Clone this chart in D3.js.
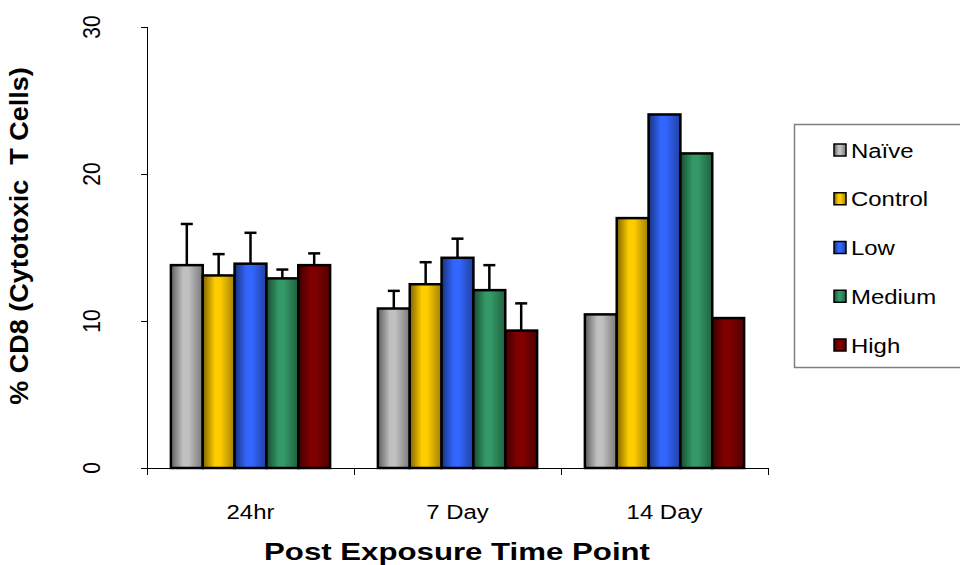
<!DOCTYPE html>
<html><head><meta charset="utf-8">
<script src="https://cdn.jsdelivr.net/npm/d3@7"></script>
<style>
html,body{margin:0;padding:0;background:#fff;}
svg{display:block;font-family:"Liberation Sans",Arial,sans-serif;}
</style></head>
<body>
<svg id="chart" width="960" height="565"></svg>
<script>
const categories = ["24hr", "7 Day", "14 Day"];
const seriesNames = ["Naïve", "Control", "Low", "Medium", "High"];
const seriesColors = ["#C0C0C0", "#FFCC00", "#3366FF", "#339966", "#800000"];
const naive   = [13.8, 10.85, 10.45];
const control = [13.1, 12.5, 17.0];
const low     = [13.9, 14.3, 24.05];
const medium  = [12.9, 12.1, 21.4];
const high    = [13.8, 9.35, 10.2];
const naiveErr   = [2.8, 1.2, 0];
const controlErr = [1.45, 1.5, 0];
const lowErr     = [2.1, 1.3, 0];
const mediumErr  = [0.6, 1.7, 0];
const highErr    = [0.8, 1.85, 0];
const yTicks = [0, 10, 20, 30];

const values = [naive, control, low, medium, high];
const errors = [naiveErr, controlErr, lowErr, mediumErr, highErr];

(function () {
const svg = d3.select("#chart");
const mLeft = 147, mRight = 768, mTop = 27, mBottom = 468;
const sx = 1.14, fs = 21;

const x0 = d3.scaleBand().domain(categories).range([mLeft, mRight]).paddingInner(0).paddingOuter(0);
const x1 = d3.scaleBand().domain(seriesNames).range([0, x0.bandwidth()]).paddingInner(0).paddingOuter(0.75);
const y = d3.scaleLinear().domain([0, 30]).range([mBottom, mTop]);

// gradients
const defs = svg.append("defs");
seriesColors.forEach((c, i) => {
  const g = defs.append("linearGradient").attr("id", "g" + i).attr("x1", "0%").attr("x2", "100%").attr("y1", "0%").attr("y2", "0%");
  const col = d3.color(c);
  g.append("stop").attr("offset", "0%").attr("stop-color", col.darker(2).formatHex());
  g.append("stop").attr("offset", "38%").attr("stop-color", col.formatHex());
  g.append("stop").attr("offset", "55%").attr("stop-color", col.formatHex());
  g.append("stop").attr("offset", "100%").attr("stop-color", col.darker(1.3).formatHex());
});

// y axis
svg.append("line").attr("x1", mLeft + 0.5).attr("x2", mLeft + 0.5).attr("y1", mTop).attr("y2", mBottom + 7).attr("stroke", "#000").attr("stroke-width", 1);
yTicks.forEach(t => {
  svg.append("line").attr("x1", mLeft - 6).attr("x2", mLeft).attr("y1", Math.round(y(t)) + 0.5).attr("y2", Math.round(y(t)) + 0.5).attr("stroke", "#000");
  svg.append("text").attr("transform", `translate(100,${y(t)}) scale(${sx},1) rotate(-90)`)
    .attr("text-anchor", "middle").attr("font-size", fs).attr("fill", "#000").text(t);
});

// bars
const groups = svg.append("g");
categories.forEach((cat, ci) => {
  seriesNames.forEach((s, si) => {
    const v = values[si][ci];
    const bx = x0(cat) + x1(s);
    groups.append("rect").attr("x", bx).attr("y", y(v)).attr("width", x1.bandwidth()).attr("height", y(0) - y(v))
      .attr("fill", `url(#g${si})`).attr("stroke", "#000").attr("stroke-width", 2.5);
  });
});
// error bars
categories.forEach((cat, ci) => {
  seriesNames.forEach((s, si) => {
    const v = values[si][ci], e = errors[si][ci];
    if (!e) return;
    const cx = x0(cat) + x1(s) + x1.bandwidth() / 2;
    groups.append("line").attr("x1", cx).attr("x2", cx).attr("y1", y(v)).attr("y2", y(v + e)).attr("stroke", "#000").attr("stroke-width", 2.5);
    groups.append("line").attr("x1", cx - 6).attr("x2", cx + 6).attr("y1", y(v + e)).attr("y2", y(v + e)).attr("stroke", "#000").attr("stroke-width", 2.5);
  });
});

// x axis
svg.append("line").attr("x1", mLeft).attr("x2", mRight).attr("y1", mBottom + 0.5).attr("y2", mBottom + 0.5).attr("stroke", "#000");
const bounds = categories.map(c => x0(c)).concat([mRight]);
bounds.forEach(b => {
  svg.append("line").attr("x1", b + 0.5).attr("x2", b + 0.5).attr("y1", mBottom).attr("y2", mBottom + 7).attr("stroke", "#000");
});
categories.forEach(c => {
  svg.append("text").attr("transform", `translate(${x0(c) + x0.bandwidth() / 2},519) scale(${sx},1)`)
    .attr("text-anchor", "middle").attr("font-size", fs).attr("fill", "#000").text(c);
});

// titles
svg.append("text").attr("transform", `translate(457,560) scale(1.3,1)`)
  .attr("text-anchor", "middle").attr("font-size", 24).attr("font-weight", "bold").text("Post Exposure Time Point");
svg.append("text").attr("transform", `translate(28,236) scale(0.98,1) rotate(-90)`)
  .attr("text-anchor", "middle").attr("font-size", 27).attr("font-weight", "bold")
  .attr("xml:space", "preserve").style("white-space", "pre").text("% CD8 (Cytotoxic  T Cells)");

// legend
svg.append("rect").attr("x", 794.5).attr("y", 124.5).attr("width", 200).attr("height", 243)
  .attr("fill", "#fff").attr("stroke", "#808080").attr("stroke-width", 1.5);
seriesNames.forEach((s, i) => {
  const cy = 150 + i * 48.75;
  svg.append("rect").attr("x", 834).attr("y", cy - 6).attr("width", 12).attr("height", 12)
    .attr("fill", `url(#g${i})`).attr("stroke", "#000").attr("stroke-width", 1.5);
  svg.append("text").attr("transform", `translate(851,${cy + 7.5}) scale(${sx},1)`)
    .attr("font-size", fs).attr("fill", "#000").text(s);
});
})();
</script>
</body></html>
